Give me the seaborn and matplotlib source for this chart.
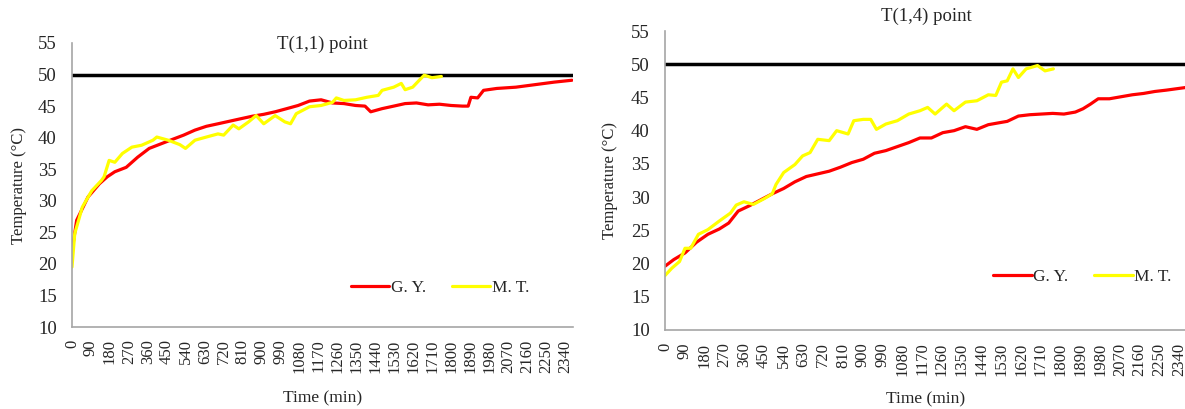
import numpy as np
import pandas as pd
import seaborn as sns
import matplotlib.pyplot as plt

# T(1,1) point readings
t11_gy_time = [0, 22, 76, 130, 167, 203, 257, 311, 366, 420, 474, 529, 583, 637, 692,
               746, 800, 855, 909, 963, 1018, 1072, 1126, 1181, 1235, 1289, 1344, 1389,
               1416, 1470, 1525, 1579, 1633, 1688, 1742, 1797, 1851, 1878, 1891, 1923,
               1951, 2014, 2104, 2195, 2286, 2370]
t11_gy_temp = [22.0, 26.9, 30.6, 32.7, 33.8, 34.6, 35.3, 36.9, 38.3, 39.0, 39.7, 40.4,
               41.2, 41.8, 42.2, 42.6, 43.0, 43.4, 43.7, 44.1, 44.6, 45.1, 45.8, 46.0,
               45.5, 45.4, 45.1, 45.0, 44.1, 44.6, 45.0, 45.4, 45.5, 45.2, 45.3, 45.1,
               45.0, 45.0, 46.4, 46.3, 47.5, 47.8, 48.0, 48.4, 48.8, 49.1]
t11_mt_time = [0, 13, 49, 94, 139, 152, 176, 203, 239, 284, 330, 384, 402, 456, 511, 538,
               583, 637, 692, 719, 764, 791, 837, 873, 909, 963, 1009, 1036, 1063, 1126,
               1181, 1235, 1253, 1289, 1344, 1398, 1452, 1470, 1525, 1561, 1579, 1615,
               1652, 1670, 1706, 1751]
t11_mt_temp = [19.5, 24.8, 29.0, 31.6, 33.2, 33.8, 36.4, 36.1, 37.5, 38.5, 38.8, 39.6,
               40.1, 39.6, 38.9, 38.3, 39.6, 40.1, 40.6, 40.4, 42.0, 41.4, 42.5, 43.5,
               42.2, 43.5, 42.5, 42.2, 43.8, 44.9, 45.1, 45.6, 46.3, 45.9, 46.0, 46.4,
               46.7, 47.5, 48.0, 48.6, 47.6, 48.0, 49.3, 49.9, 49.5, 49.7]

# T(1,4) point readings
t14_gy_time = [0, 40, 91, 143, 195, 247, 290, 333, 384, 436, 488, 540, 591, 643, 695,
               747, 798, 850, 902, 953, 1005, 1057, 1109, 1160, 1212, 1264, 1315, 1367,
               1419, 1471, 1522, 1557, 1608, 1660, 1712, 1764, 1815, 1867, 1902, 1936,
               1971, 2022, 2074, 2126, 2177, 2229, 2281, 2370]
t14_gy_temp = [19.6, 20.6, 21.6, 23.2, 24.4, 25.2, 26.1, 27.9, 28.7, 29.6, 30.5, 31.3,
               32.3, 33.1, 33.5, 33.9, 34.5, 35.2, 35.7, 36.6, 37.0, 37.6, 38.2, 38.9,
               38.9, 39.7, 40.0, 40.6, 40.2, 40.9, 41.2, 41.4, 42.2, 42.4, 42.5, 42.6,
               42.5, 42.8, 43.3, 44.0, 44.8, 44.8, 45.1, 45.4, 45.6, 45.9, 46.1, 46.5]
t14_mt_time = [0, 31, 66, 91, 117, 152, 195, 247, 298, 324, 359, 402, 453, 488, 505, 540,
               591, 626, 660, 695, 747, 781, 833, 859, 902, 936, 962, 1005, 1057, 1109,
               1160, 1195, 1229, 1281, 1315, 1367, 1419, 1471, 1505, 1531, 1557, 1583,
               1608, 1643, 1695, 1729, 1767]
t14_mt_temp = [18.2, 19.3, 20.3, 22.3, 22.3, 24.4, 25.1, 26.4, 27.6, 28.8, 29.3, 28.9,
               29.8, 30.5, 31.9, 33.7, 34.9, 36.2, 36.7, 38.7, 38.5, 40.0, 39.5, 41.5,
               41.7, 41.7, 40.2, 41.0, 41.5, 42.5, 43.0, 43.5, 42.5, 44.0, 43.0, 44.3,
               44.5, 45.4, 45.3, 47.3, 47.5, 49.3, 48.0, 49.3, 49.8, 49.0, 49.3]

limit_temp = 50
x_ticks = list(range(0, 2341, 90))
y_ticks = list(range(10, 56, 5))

sns.set_style("white")
plt.rcParams["font.family"] = ["Liberation Serif", "DejaVu Serif"]


def make_frame(gy_time, gy_temp, mt_time, mt_temp):
    gy = pd.DataFrame({"time": gy_time, "temp": gy_temp, "series": "G. Y."})
    mt = pd.DataFrame({"time": mt_time, "temp": mt_temp, "series": "M. T."})
    return pd.concat([gy, mt], ignore_index=True)


def draw_panel(ax, df, title, title_y, legend_pos):
    ax.axhline(limit_temp, color="black", lw=2.5, zorder=1)
    sns.lineplot(data=df, x="time", y="temp", hue="series",
                 palette={"G. Y.": "#ff0000", "M. T.": "#ffff00"},
                 lw=2.3, ax=ax, zorder=2)
    ax.set_xlim(0, 2375)
    ax.set_ylim(10, 55)
    ax.set_xticks(x_ticks)
    ax.set_xticklabels([str(t) for t in x_ticks], rotation=90, fontsize=12)
    ax.set_yticks(y_ticks)
    ax.set_yticklabels([str(t) for t in y_ticks], fontsize=13.5)
    ax.tick_params(axis="x", length=0, pad=9)
    ax.tick_params(axis="y", length=0, pad=11)
    for side in ["top", "right"]:
        ax.spines[side].set_visible(False)
    for side in ["left", "bottom"]:
        ax.spines[side].set_color("#a6a6a6")
        ax.spines[side].set_linewidth(1.2)
    ax.set_xlabel("Time (min)", fontsize=12.5)
    ax.set_ylabel("Temperature (°C)", fontsize=12)
    ax.set_title(title, fontsize=13.5, y=title_y)
    ax.legend(loc="center", bbox_to_anchor=legend_pos, ncol=2, frameon=False,
              fontsize=12.5, handlelength=2.2, handletextpad=0.1, columnspacing=1.5)


fig = plt.figure(figsize=(11.85, 4.09), dpi=100)
ax1 = fig.add_axes([72 / 1185, 1 - 327 / 409, 501 / 1185, 284 / 409])
ax2 = fig.add_axes([665 / 1185, 1 - 330 / 409, 522 / 1185, 299 / 409])

draw_panel(ax1, make_frame(t11_gy_time, t11_gy_temp, t11_mt_time, t11_mt_temp),
           "T(1,1) point", 0.95, (0.735, 0.137))
draw_panel(ax2, make_frame(t14_gy_time, t14_gy_temp, t14_mt_time, t14_mt_temp),
           "T(1,4) point", 1.005, (0.80, 0.177))

ax1.yaxis.set_label_coords(-0.09, 0.5)
ax2.yaxis.set_label_coords(-0.09, 0.5)
ax1.xaxis.set_label_coords(0.5, -0.222)
ax2.xaxis.set_label_coords(0.5, -0.205)

fig.savefig("out.png", dpi=100)
